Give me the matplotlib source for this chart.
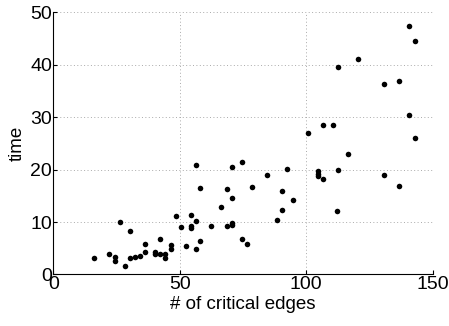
import matplotlib
matplotlib.use("Agg")
import matplotlib.pyplot as plt

# données
edges = [16.1, 22.2, 24.2, 24.2, 26.2, 28.3, 30.3, 30.3, 32.4, 34.4,
         36.4, 36.4, 40.3, 40.3, 42.3, 42.3, 44.3, 44.3, 46.4, 46.4,
         48.4, 50.4, 52.4, 54.4, 54.4, 54.4, 56.3, 56.3, 56.3, 57.9,
         57.9, 62.4, 66.5, 68.5, 68.5, 70.5, 70.5, 70.5, 70.5, 74.5,
         74.5, 76.5, 78.6, 84.5, 88.5, 90.5, 90.5, 92.5, 94.6, 100.6,
         104.6, 104.6, 104.6, 106.6, 106.6, 110.6, 112.4, 112.4, 112.1, 116.7,
         120.6, 130.8, 130.8, 136.8, 136.8, 140.8, 140.8, 142.9, 142.9]
times = [3.1, 3.9, 3.4, 2.5, 10.0, 1.6, 8.3, 3.1, 3.3, 3.5,
         5.9, 4.3, 4.2, 3.9, 6.7, 3.9, 3.9, 3.2, 5.7, 4.8,
         11.2, 9.0, 5.5, 11.3, 9.2, 8.8, 10.2, 4.8, 20.9, 16.5,
         6.4, 9.2, 12.8, 16.4, 9.2, 20.5, 14.6, 9.9, 9.5, 21.4,
         6.8, 5.8, 16.7, 19.0, 10.4, 16.0, 12.3, 20.1, 14.2, 27.0,
         19.8, 19.2, 18.7, 28.5, 18.3, 28.5, 39.6, 19.9, 12.2, 23.0,
         41.2, 36.4, 19.0, 37.0, 16.9, 47.4, 30.5, 44.5, 26.0]

plt.rcParams['font.family'] = ['Liberation Sans', 'DejaVu Sans']

fig = plt.figure(figsize=(4.49, 3.26), dpi=100)
ax = fig.add_axes([0.1187, 0.158, 0.845, 0.804])

ax.plot(edges, times, 'o', color='black', markersize=4, markeredgewidth=0)

ax.set_xlim(0, 150)
ax.set_ylim(0, 50)
ax.set_xticks([0, 50, 100, 150])
ax.set_yticks([0, 10, 20, 30, 40, 50])
ax.grid(True, linestyle=(0, (1, 2.5)), color='#aaaaaa', linewidth=0.7)
ax.spines['top'].set_visible(False)
ax.spines['right'].set_visible(False)
ax.tick_params(direction='in', labelsize=14, length=3, pad=1)
ax.set_xlabel("# of critical edges", fontsize=13.5, labelpad=2)
ax.set_ylabel("time", fontsize=13.5, labelpad=3)

fig.savefig("out.png", dpi=100)
